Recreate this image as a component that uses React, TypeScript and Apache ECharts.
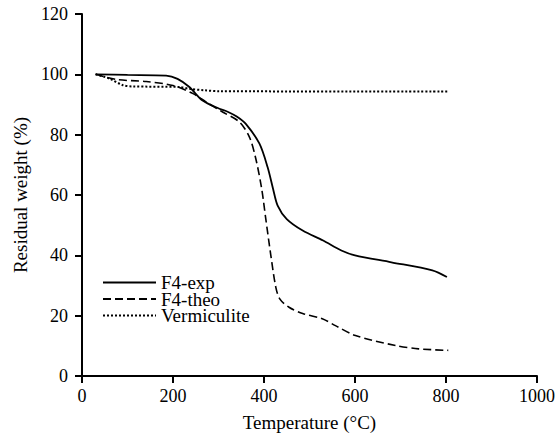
import React, { useEffect, useRef } from "react";
import * as echarts from "echarts";

const expT = [30, 100, 185, 210, 236, 265, 302, 320, 340, 360, 390, 408, 420, 430, 450, 485, 530, 570, 600, 680, 770, 802];
const expW = [100, 99.8, 99.6, 98.5, 95.8, 91.3, 88.6, 87.6, 86, 83.6, 77, 69.2, 62, 56.5, 52, 48.2, 44.9, 41.6, 40, 37.7, 35, 32.8];

const theoT = [30, 75, 141, 200, 244, 273, 309, 346, 368, 382, 395, 404, 415, 426, 435, 455, 485, 528, 557, 601, 689, 740, 805];
const theoW = [100, 98.3, 97.6, 96.3, 93.6, 90.8, 87.5, 84.2, 79.2, 72, 62, 52, 40, 29.4, 25.5, 22.8, 20.7, 19, 16.7, 13.4, 10.1, 9, 8.5];

const vermT = [30, 60, 90, 110, 214, 236, 270, 302, 805];
const vermW = [100, 98.6, 96.4, 96, 95.8, 95.2, 94.7, 94.4, 94.3];

const seriesNames = ["F4-exp", "F4-theo", "Vermiculite"];

const zip = (xs: number[], ys: number[]) => xs.map((x, i) => [x, ys[i]]);

const FONT = "Liberation Serif";

export default function App() {
  const ref = useRef<HTMLDivElement>(null);
  useEffect(() => {
    if (!ref.current) return;
    const chart = echarts.init(ref.current, null, { renderer: "svg" });
    const axisCommon = {
      axisLine: { show: true, lineStyle: { color: "#000", width: 2 } },
      axisTick: { show: true, length: 7, lineStyle: { color: "#000", width: 2 } },
      splitLine: { show: false },
      axisLabel: { color: "#000", fontFamily: FONT, fontSize: 18, formatter: (v: number) => String(v) },
      nameTextStyle: { color: "#000", fontFamily: FONT, fontSize: 19 },
      nameLocation: "middle" as const,
    };
    chart.setOption({
      animation: false,
      backgroundColor: "#fff",
      textStyle: { fontFamily: FONT },
      grid: { left: 82, right: 19, top: 14, bottom: 62 },
      legend: {
        orient: "vertical",
        left: 102,
        top: 273,
        padding: 0,
        itemWidth: 53,
        itemHeight: 10,
        itemGap: -2.5,
        itemStyle: { opacity: 0 },
        textStyle: { color: "#000", fontFamily: FONT, fontSize: 19, lineHeight: 17 },
        data: seriesNames,
      },
      xAxis: {
        ...axisCommon,
        type: "value",
        min: 0,
        max: 1000,
        interval: 200,
        name: "Temperature (°C)",
        nameGap: 37,
        axisLabel: { ...axisCommon.axisLabel, margin: 11 },
      },
      yAxis: {
        ...axisCommon,
        type: "value",
        min: 0,
        max: 120,
        interval: 20,
        name: "Residual weight (%)",
        nameGap: 48,
        axisLabel: { ...axisCommon.axisLabel, margin: 14 },
      },
      series: [
        {
          name: seriesNames[0],
          type: "line",
          data: zip(expT, expW),
          showSymbol: false,
          symbol: "none",
          smooth: 0.3,
          lineStyle: { color: "#000", width: 1.8, type: "solid" },
          itemStyle: { color: "#000" },
        },
        {
          name: seriesNames[1],
          type: "line",
          data: zip(theoT, theoW),
          showSymbol: false,
          symbol: "none",
          smooth: 0.3,
          lineStyle: { color: "#000", width: 1.6, type: [8, 4] },
          itemStyle: { color: "#000" },
        },
        {
          name: seriesNames[2],
          type: "line",
          data: zip(vermT, vermW),
          showSymbol: false,
          symbol: "none",
          smooth: 0.3,
          lineStyle: { color: "#000", width: 2, type: [2, 2] },
          itemStyle: { color: "#000" },
        },
      ],
    });
    return () => chart.dispose();
  }, []);
  return <div ref={ref} style={{ width: 558, height: 438, position: "absolute", left: 0, top: 0 }} />;
}
